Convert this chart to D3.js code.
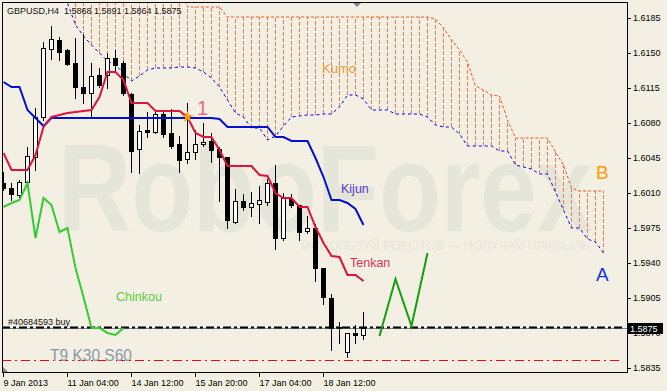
<!DOCTYPE html>
<html>
<head>
<meta charset="utf-8">
<script src="https://cdn.jsdelivr.net/npm/d3@7"></script>
<style>
  html, body { margin: 0; padding: 0; background: #f3f0e3; }
  svg { display: block; }
  text { font-family: 'Liberation Sans', Arial, sans-serif; white-space: pre; }
</style>
</head>
<body>
<svg id="chart" width="667" height="391"></svg>
<script>
// GBPUSD H4 с Ichimoku (T9 K30 S60)
const titleText = 'GBPUSD,H4  1.5868 1.5891 1.5864 1.5875';

// свечи, по бару слева направо
const opens  = [1.6020,1.6015,1.6008,1.6021,1.6046,1.6086,1.6154,1.6163,1.6153,1.6140,1.6116,1.6110,1.6128,1.6128,1.6145,1.6140,1.6109,1.6054,1.6073,1.6071,1.6089,1.6070,1.6059,1.6044,1.6051,1.6059,1.6062,1.6054,1.6046,1.5981,1.6002,1.5996,1.5999,1.6001,1.6020,1.5965,1.6004,1.5998,1.5972,1.5975,1.5935,1.5905,1.5876,1.5851,1.5870,1.5868];
const highs  = [1.6031,1.6020,1.6023,1.6056,1.6095,1.6161,1.6177,1.6166,1.6154,1.6165,1.6169,1.6140,1.6135,1.6150,1.6153,1.6142,1.6110,1.6078,1.6091,1.6093,1.6093,1.6094,1.6067,1.6100,1.6073,1.6080,1.6070,1.6056,1.6046,1.6014,1.6009,1.6011,1.6017,1.6024,1.6038,1.6010,1.6009,1.5998,1.5987,1.5979,1.5935,1.5909,1.5881,1.5870,1.5878,1.5891];
const lows   = [1.6013,1.6003,1.6006,1.6018,1.6033,1.6083,1.6144,1.6143,1.6138,1.6105,1.6100,1.6087,1.6116,1.6115,1.6133,1.6108,1.6031,1.6030,1.6066,1.6070,1.6066,1.6055,1.6031,1.6040,1.6044,1.6057,1.6041,1.6002,1.5975,1.5980,1.5993,1.5987,1.5980,1.5998,1.5954,1.5963,1.5996,1.5963,1.5970,1.5922,1.5899,1.5853,1.5860,1.5846,1.5860,1.5864];
const closes = [1.6015,1.6009,1.6021,1.6047,1.6086,1.6155,1.6164,1.6151,1.6139,1.6116,1.6110,1.6127,1.6118,1.6145,1.6138,1.6110,1.6052,1.6072,1.6071,1.6089,1.6069,1.6057,1.6043,1.6051,1.6059,1.6061,1.6053,1.6046,1.5983,1.6002,1.5996,1.6000,1.6003,1.6020,1.5965,1.6005,1.5998,1.5971,1.5975,1.5935,1.5906,1.5875,1.5875,1.5870,1.5868,1.5875];

// линии индикатора
const tenkan = [1.6050,1.6033,1.6033,1.6033,1.6048,1.6076,1.6086,1.6088,1.6090,1.6091,1.6092,1.6093,1.6106,1.6131,1.6131,1.6123,1.6100,1.6100,1.6100,1.6092,1.6092,1.6092,1.6092,1.6086,1.6070,1.6066,1.6066,1.6053,1.6037,1.6037,1.6037,1.6037,1.6028,1.6027,1.6010,1.6005,1.6005,1.5996,1.5996,1.5976,1.5960,1.5947,1.5946,1.5928,1.5928,1.5922];
const kijun  = [1.6121,1.6116,1.6116,1.6093,1.6085,1.6077,1.6085,1.6085,1.6085,1.6085,1.6085,1.6085,1.6085,1.6085,1.6085,1.6085,1.6085,1.6085,1.6085,1.6085,1.6085,1.6085,1.6085,1.6085,1.6085,1.6085,1.6085,1.6084,1.6076,1.6076,1.6076,1.6076,1.6076,1.6076,1.6066,1.6066,1.6062,1.6062,1.6062,1.6045,1.6026,1.6003,1.6003,1.6000,1.5994,1.5978];
// облако (сдвинуто на 30 баров вперёд, 76 баров)
const senkouA = [1.6262,1.6255,1.6248,1.6241,1.6234,1.6227,1.6220,1.6212,1.6200,1.6178,1.6167,1.6158,1.6150,1.6142,1.6138,1.6130,1.6122,1.6127,1.6133,1.6135,1.6135,1.6135,1.6136,1.6136,1.6135,1.6131,1.6125,1.6116,1.6103,1.6090,1.6086,1.6075,1.6075,1.6063,1.6067,1.6077,1.6086,1.6087,1.6088,1.6088,1.6089,1.6089,1.6096,1.6108,1.6108,1.6104,1.6093,1.6093,1.6093,1.6089,1.6089,1.6089,1.6089,1.6086,1.6078,1.6076,1.6076,1.6069,1.6057,1.6057,1.6057,1.6057,1.6052,1.6052,1.6038,1.6036,1.6034,1.6029,1.6029,1.6011,1.5993,1.5975,1.5975,1.5964,1.5961,1.5950];
const senkouB = [1.6215,1.6215,1.6215,1.6215,1.6215,1.6215,1.6215,1.6215,1.6215,1.6215,1.6215,1.6215,1.6215,1.6215,1.6215,1.6215,1.6215,1.6215,1.6215,1.6215,1.6215,1.6215,1.6215,1.6196,1.6196,1.6196,1.6196,1.6196,1.6186,1.6186,1.6186,1.6186,1.6186,1.6186,1.6186,1.6186,1.6186,1.6186,1.6186,1.6186,1.6186,1.6186,1.6186,1.6186,1.6186,1.6186,1.6186,1.6186,1.6186,1.6186,1.6186,1.6186,1.6186,1.6186,1.6184,1.6175,1.6163,1.6153,1.6141,1.6117,1.6113,1.6108,1.6107,1.6083,1.6065,1.6065,1.6065,1.6065,1.6065,1.6051,1.6038,1.6015,1.6012,1.6012,1.6012,1.6012];
const chinkouShift = 30; // chinkou = close, смещённый на 30 баров назад

// нарисованный прогноз (зелёный зигзаг)
const forecastBars = [47, 49, 51, 53];
const forecastPrices = [1.5867, 1.5924, 1.5877, 1.5950];

const orderPrice = 1.5876;   // #40684593 buy
const bidPrice = 1.5875;
const stopPrice = 1.5843;
const markerBar = 23, markerPrice = 1.6086;

const priceTicks = [1.6185,1.6150,1.6115,1.6080,1.6045,1.6010,1.5975,1.5940,1.5905,1.5870,1.5835];
const timeTickBars = [0, 8, 16, 24, 32, 40];
const timeLabels = ['9 Jan 2013', '11 Jan 04:00', '14 Jan 12:00', '15 Jan 20:00', '17 Jan 04:00', '18 Jan 12:00'];

const svg = d3.select('#chart');
const bg = '#f3f0e3';

const x = d3.scaleLinear().domain([0, 78]).range([3, 627]);
const y = d3.scaleLinear().domain([1.5830, 1.6201]).range([373, 2]);
const ry = v => Math.round(y(v));

svg.append('rect').attr('width', 667).attr('height', 391).attr('fill', bg);

// водяной знак
svg.append('text')
    .attr('x', 58).attr('y', 231)
    .attr('font-size', 124).attr('font-weight', 'bold')
    .attr('fill', '#e5e6d9')
    .attr('textLength', 535).attr('lengthAdjust', 'spacingAndGlyphs')
    .text('RoboForex');
svg.append('text')
    .attr('x', 302).attr('y', 250)
    .attr('font-size', 13)
    .attr('fill', '#e5e6d9')
    .attr('textLength', 288).attr('lengthAdjust', 'spacingAndGlyphs')
    .text('ИСПОЛЬЗУЙ РОБОТОВ — ПОЛУЧАЙ ПРИБЫЛЬ');

svg.append('clipPath').attr('id', 'plot-clip')
    .append('rect').attr('x', 3).attr('y', 3).attr('width', 624).attr('height', 370);

const plot = svg.append('g').attr('clip-path', 'url(#plot-clip)');

// облако: штриховка между A и B
const cloud = senkouA.map((a, i) => ({ i, a, b: senkouB[i] }));
plot.append('g').selectAll('line')
    .data(cloud)
    .join('line')
    .attr('x1', d => x(d.i) + 0.5).attr('x2', d => x(d.i) + 0.5)
    .attr('y1', d => ry(d.a)).attr('y2', d => ry(d.b))
    .attr('stroke', '#f27d55')
    .attr('stroke-dasharray', '4,2');

const line = d3.line().x(d => x(d.i) + 0.5).y(d => y(d.v));
const toPts = arr => arr.map((v, i) => ({ i, v }));

plot.append('path').datum(toPts(senkouB))
    .attr('d', line).attr('fill', 'none')
    .attr('stroke', '#ff5520').attr('stroke-width', 1).attr('stroke-dasharray', '3,2');
plot.append('path').datum(toPts(senkouA))
    .attr('d', line).attr('fill', 'none')
    .attr('stroke', '#0000ff').attr('stroke-width', 1).attr('stroke-dasharray', '3,3');

// горизонтальные линии
plot.append('line')
    .attr('x1', 2).attr('x2', 622)
    .attr('y1', ry(stopPrice) + 0.5).attr('y2', ry(stopPrice) + 0.5)
    .attr('stroke', '#ff0000').attr('stroke-dasharray', '9,4,2,4');
plot.append('line')
    .attr('x1', 2).attr('x2', 627)
    .attr('y1', ry(bidPrice) + 0.5).attr('y2', ry(bidPrice) + 0.5)
    .attr('stroke', '#7a8898');
plot.append('line')
    .attr('x1', 2).attr('x2', 622)
    .attr('y1', ry(orderPrice) + 0.5).attr('y2', ry(orderPrice) + 0.5)
    .attr('stroke', '#000').attr('stroke-width', 2).attr('stroke-dasharray', '8,3,3,3');

// свечи
const candles = opens.map((o, i) => ({ i, o, h: highs[i], l: lows[i], c: closes[i] }));
const cg = plot.append('g');
cg.selectAll('line')
    .data(candles)
    .join('line')
    .attr('x1', d => x(d.i) + 0.5).attr('x2', d => x(d.i) + 0.5)
    .attr('y1', d => ry(d.h)).attr('y2', d => ry(d.l) + 1)
    .attr('stroke', '#000');
cg.selectAll('rect')
    .data(candles)
    .join('rect')
    .attr('x', d => x(d.i) - 1.5).attr('width', 4)
    .attr('y', d => ry(Math.max(d.o, d.c)) + 0.5)
    .attr('height', d => Math.max(1, ry(Math.min(d.o, d.c)) - ry(Math.max(d.o, d.c))))
    .attr('fill', d => d.c > d.o ? '#fff' : '#000')
    .attr('stroke', '#000');

// Tenkan, Kijun, Chinkou
plot.append('path').datum(toPts(kijun))
    .attr('d', line).attr('fill', 'none')
    .attr('stroke', '#0010d0').attr('stroke-width', 2);
plot.append('path').datum(toPts(tenkan))
    .attr('d', line).attr('fill', 'none')
    .attr('stroke', '#dc143c').attr('stroke-width', 2);
plot.append('path').datum(toPts(closes.slice(chinkouShift)))
    .attr('d', line).attr('fill', 'none')
    .attr('stroke', '#32cd32').attr('stroke-width', 2);

// прогноз
plot.append('path')
    .datum(forecastBars.map((b, k) => ({ i: b, v: forecastPrices[k] })))
    .attr('d', line).attr('fill', 'none')
    .attr('stroke', '#12a012').attr('stroke-width', 2);

// метка 1
plot.append('path')
    .attr('d', d3.symbol(d3.symbolStar, 45))
    .attr('transform', `translate(${x(markerBar) + 0.5},${y(markerPrice)})`)
    .attr('fill', '#ff9a10');

// подписи
const label = (tx, ty, txt, size, color) => svg.append('text')
    .attr('x', tx).attr('y', ty).attr('font-size', size).attr('fill', color).text(txt);

label(7, 14, titleText, 9, '#111');
label(322, 73, 'Kumo', 13, '#e99a3c');
label(197, 115, '1', 20, '#e2727a');
label(341, 193, 'Kijun', 12.5, '#5a36dc');
label(350, 267, 'Tenkan', 12.5, '#e0335a');
label(116, 301, 'Chinkou', 12.5, '#5ccb3a');
label(596, 179, 'B', 19, '#ff9a00');
label(596, 281, 'A', 19, '#1530e0');
label(8, 325, '#40684593 buy', 9, '#111');
label(50, 361, 'T9 K30 S60', 16, '#8a98a8')
    .attr('textLength', 82).attr('lengthAdjust', 'spacingAndGlyphs');

// рамка
svg.append('rect')
    .attr('x', 2.5).attr('y', 2.5).attr('width', 625).attr('height', 370)
    .attr('fill', 'none').attr('stroke', '#000');

// маркеры MT4
svg.append('path').attr('d', 'M353,3 L361,3 L357,7 Z').attr('fill', '#7a8898');
svg.append('path').attr('d', 'M3,367 L3,372 L8,372 Z').attr('fill', '#7a8898');

// оси
const yAxis = svg.append('g')
    .attr('transform', 'translate(627,0)')
    .call(d3.axisRight(y).tickValues(priceTicks).tickSize(4).tickPadding(2).tickFormat(d3.format('.4f')));
yAxis.select('.domain').remove();
yAxis.selectAll('text').attr('font-size', 9).attr('fill', '#000').attr('font-family', null);
yAxis.selectAll('line').attr('stroke', '#000');

const xAxis = svg.append('g')
    .attr('transform', 'translate(0,373)')
    .call(d3.axisBottom(x).tickValues(timeTickBars).tickSize(4).tickPadding(3).tickFormat((d, k) => timeLabels[k]));
xAxis.select('.domain').remove();
xAxis.selectAll('text').attr('font-size', 9).attr('fill', '#000').attr('text-anchor', 'start').attr('font-family', null);
xAxis.selectAll('line').attr('stroke', '#000');

// текущая цена
svg.append('rect')
    .attr('x', 628).attr('y', ry(bidPrice) - 5).attr('width', 35).attr('height', 11)
    .attr('fill', '#000');
svg.append('text')
    .attr('x', 630).attr('y', ry(bidPrice) + 4)
    .attr('font-size', 9).attr('fill', '#fff')
    .text(d3.format('.4f')(bidPrice));
</script>
</body>
</html>
